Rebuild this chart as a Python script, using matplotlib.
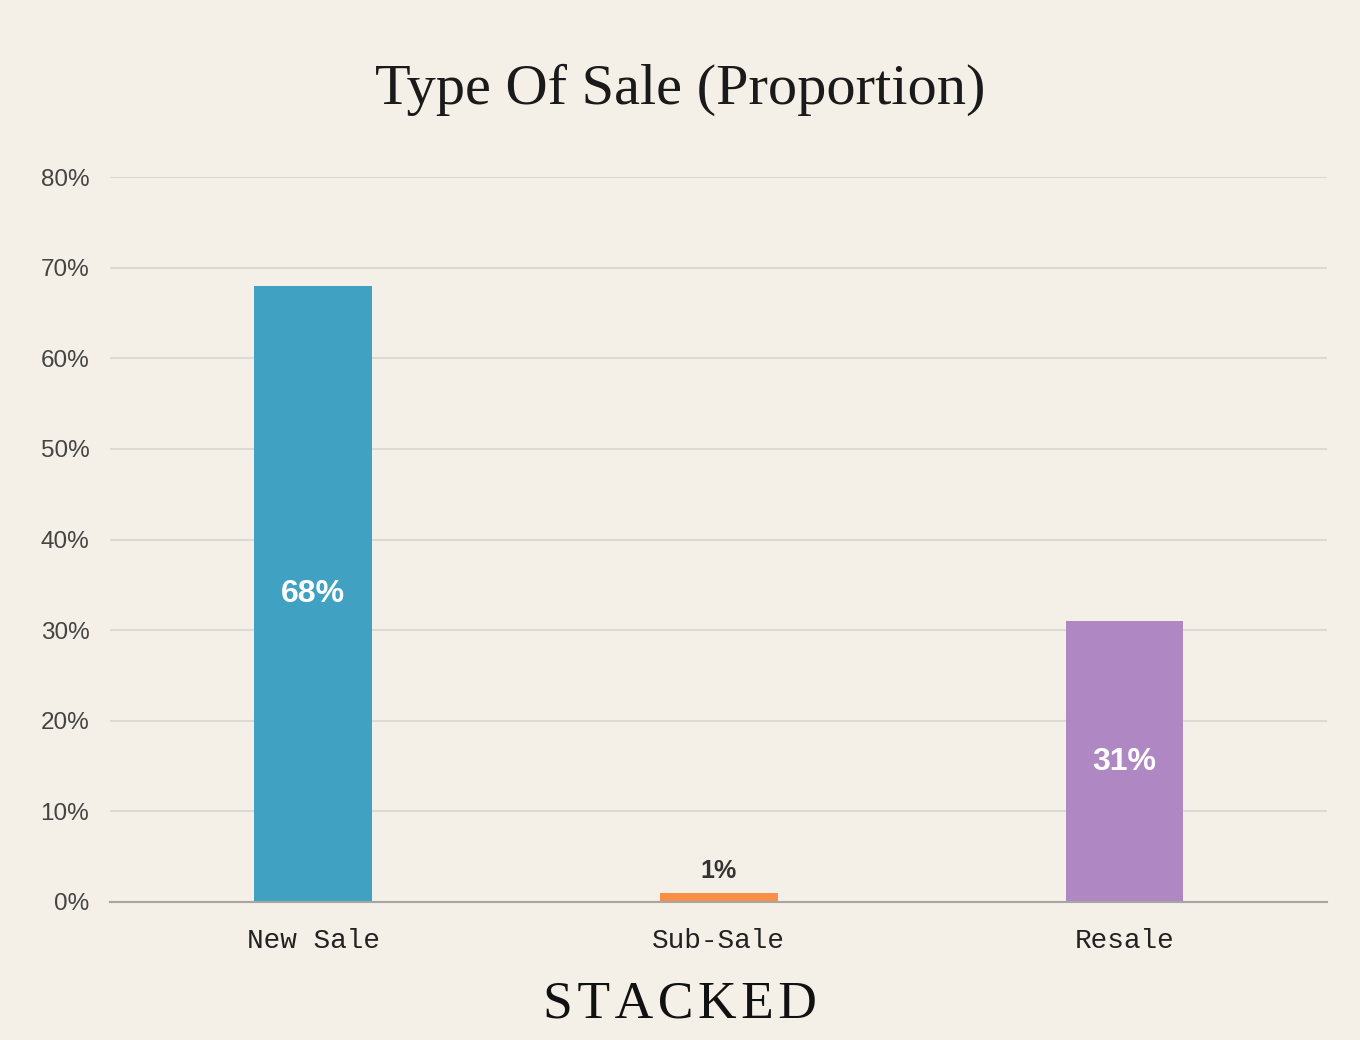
import matplotlib.pyplot as plt

# data
categories = ["New Sale", "Sub-Sale", "Resale"]
shares = [68, 1, 31]
bar_colors = ["#41A1C2", "#F98E47", "#AE87C3"]
y_ticks = [0, 10, 20, 30, 40, 50, 60, 70, 80]

bg = "#F4F0E8"

fig = plt.figure(figsize=(13.6, 10.4), dpi=100, facecolor=bg)
ax = fig.add_axes([0.081, 0.1327, 0.895, 0.6971], facecolor=bg)

x = list(range(len(categories)))
bars = ax.bar(x, shares, width=0.29, color=bar_colors, zorder=3)

ax.set_xlim(-0.5, 2.5)
ax.set_ylim(0, 80)
ax.set_yticks(y_ticks)
ax.set_yticklabels([str(t) + "%" for t in y_ticks], fontsize=17.5, color="#444444",
                   family="Liberation Sans")
ax.set_xticks(x)
ax.set_xticklabels(categories, fontsize=20, color="#222222", family="Liberation Mono")
ax.tick_params(axis="both", length=0)
ax.tick_params(axis="y", pad=15)
ax.tick_params(axis="x", pad=19)

ax.yaxis.grid(True, color="#DCDAD6", linewidth=1.5, zorder=0)
for s in ["top", "right", "left"]:
    ax.spines[s].set_visible(False)
ax.spines["bottom"].set_color("#A8A6A2")
ax.spines["bottom"].set_linewidth(1.5)
ax.spines["bottom"].set_zorder(4)

# value labels
for xi, v in zip(x, shares):
    if v >= 5:
        ax.text(xi, v / 2, str(v) + "%", ha="center", va="center", color="white",
                fontsize=23, fontweight="bold", family="Liberation Sans", zorder=5)
    else:
        ax.text(xi, v + 2.4, str(v) + "%", ha="center", va="center", color="#333333",
                fontsize=18, fontweight="bold", family="Liberation Sans", zorder=5)

fig.text(0.5, 0.914, "Type Of Sale (Proportion)", ha="center", va="center",
         fontsize=42, family="Liberation Serif", color="#1A1A1A")
fig.text(0.5, 0.034, "S T A C K E D".replace(" ", "\u200a"), ha="center", va="center",
         fontsize=38.5, family="Liberation Serif", color="#111111")

fig.savefig("out.png", dpi=100, facecolor=bg)
